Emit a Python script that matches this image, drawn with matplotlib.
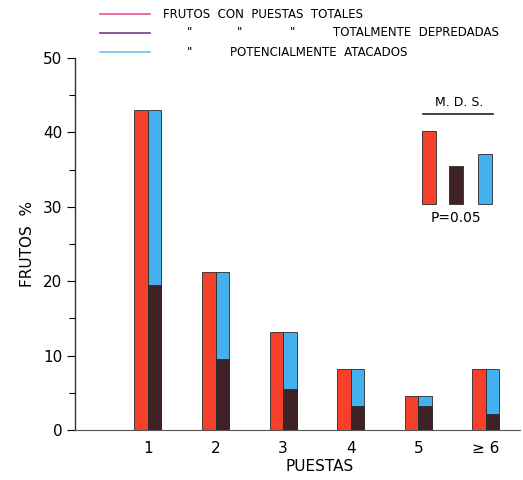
import numpy as np
import matplotlib
matplotlib.use('Agg')
import matplotlib.pyplot as plt
from matplotlib.lines import Line2D

RED  = '#f5402c'
DARK = '#3e2226'
BLUE = '#45b0ee'
EDGE = '#2a2a2a'

puestas = ['1', '2', '3', '4', '5', '\u2265 6']
totales = [43.0, 21.2, 13.2, 8.2, 4.6, 8.2]
depredadas = [19.5, 9.5, 5.5, 3.2, 3.2, 2.1]
atacados = [43.0, 21.2, 13.2, 8.2, 4.6, 8.2]

# minimum significant difference bars (P = 0.05)
mds_vals = [9.8, 5.1, 6.7]
mds_base = 30.4

plt.rcParams['font.family'] = 'DejaVu Sans'

fig = plt.figure(figsize=(5.23, 4.8), dpi=100)
ax = fig.add_axes([0.1434, 0.104, 0.85, 0.775])

x = np.arange(1, len(puestas) + 1)
w = 0.2
ax.bar(x - w / 2, totales, w, color=RED, edgecolor=EDGE, lw=0.6)
ax.bar(x + w / 2, atacados, w, color=BLUE, edgecolor=EDGE, lw=0.6)
ax.bar(x + w / 2, depredadas, w, color=DARK, edgecolor=EDGE, lw=0.6)

mx = np.array([5.16, 5.56, 5.99])
ax.bar(mx, mds_vals, 0.21, bottom=mds_base, color=[RED, DARK, BLUE],
       edgecolor=EDGE, lw=0.6)
ax.text(5.6, 44.0, 'M. D. S.', ha='center', va='center', fontsize=9)
ax.plot([5.07, 6.10], [42.5, 42.5], color='#222222', lw=1.2)
ax.text(5.56, 28.5, 'P=0.05', ha='center', va='center', fontsize=10)

ax.set_xlim(-0.08, 6.5)
ax.set_ylim(0, 50)
ax.set_xticks(x)
ax.set_xticklabels(puestas, fontsize=11)
ax.tick_params(axis='x', length=0, pad=8)
ax.set_yticks(np.arange(0, 51, 10))
ax.set_yticks(np.arange(5, 50, 10), minor=True)
ax.tick_params(axis='y', direction='out', length=6, width=0.8, labelsize=11, pad=3)
ax.tick_params(axis='y', which='minor', length=4, width=0.8)

for side in ['top', 'right']:
    ax.spines[side].set_visible(False)
ax.spines['left'].set_color('#333333')
ax.spines['bottom'].set_color('#555555')
ax.spines['left'].set_linewidth(1.0)

ax.set_ylabel('FRUTOS  %', fontsize=11, labelpad=6)
ax.set_xlabel('PUESTAS', fontsize=11, labelpad=2)
ax.xaxis.set_label_coords(0.55, -0.078)

# legend drawn as a line key at the top
rows = [(14, '#e8509a', [(163, 'FRUTOS  CON  PUESTAS  TOTALES')]),
        (33, '#7a3a8c', [(187, '"'), (237, '"'), (290, '"'),
                         (333, 'TOTALMENTE  DEPREDADAS')]),
        (52, '#6cc0ea', [(187, '"'), (230, 'POTENCIALMENTE  ATACADOS')])]
for yp, col, texts in rows:
    fy = 1 - yp / 480
    fig.add_artist(Line2D([100 / 523, 150 / 523], [fy, fy], color=col, lw=1.2))
    for xp, s in texts:
        fig.text(xp / 523, fy, s, fontsize=8.5, va='center', ha='left')

fig.savefig('out.png', dpi=100)
